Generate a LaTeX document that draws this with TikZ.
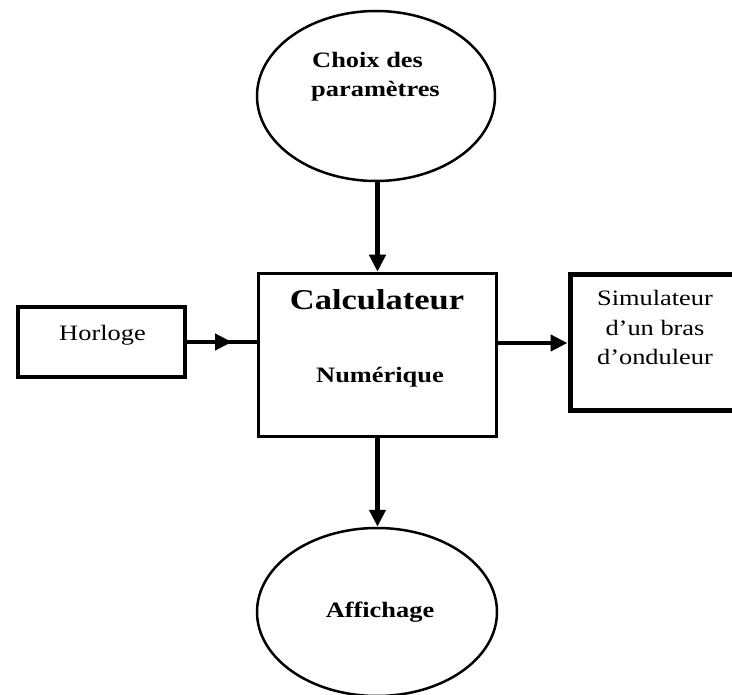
\documentclass[tikz,border=0pt]{standalone}
\usepackage{fontspec}
\setmainfont{Liberation Serif}[FakeStretch=1.2]
\usetikzlibrary{shapes.geometric,arrows.meta}
\begin{document}
\begin{tikzpicture}[x=1pt,y=-1pt,
  ell/.style={draw,ellipse,line width=2.5pt,inner sep=0pt},
  boxa/.style={draw,rectangle,inner sep=0pt},
  lbl/.style={inner sep=0pt,anchor=base,font=\fontsize{22}{26}\selectfont},
  lblb/.style={inner sep=0pt,anchor=base,font=\fontsize{22}{26}\selectfont\bfseries},
  conn/.style={line width=4.5pt},
  tipa/.style={-{Triangle[length=17pt,width=16pt]}}]
\useasboundingbox (0,0) rectangle (732,695);
\clip (0,0) rectangle (732,695);

% nodes
\node[ell,minimum width=238pt,minimum height=170pt] (choix) at (376,96) {};
\node[lblb,anchor=base west] (choix1) at (312,68) {Choix des};
\node[lblb,anchor=base west] (choix2) at (311,97) {paramètres};

\node[boxa,line width=3.5pt,minimum width=238pt,minimum height=163pt] (calc) at (377.5,355) {};
\node[lblb,font=\fontsize{28.7}{32}\selectfont\bfseries] (calct) at (377,310) {Calculateur};
\node[lblb] (numt) at (380,383) {Numérique};

\node[boxa,line width=4.5pt,minimum width=167pt,minimum height=70pt] (horloge) at (101.5,342) {};
\node[lbl] (hort) at (102.5,341) {Horloge};

\node[boxa,line width=5pt,minimum width=180pt,minimum height=136pt] (sim) at (660,343) {};
\node[lbl] (sim1) at (655,306) {Simulateur};
\node[lbl] (sim2) at (655,336) {d’un bras};
\node[lbl] (sim3) at (655,365) {d’onduleur};

\node[ell,minimum width=240pt,minimum height=168pt] (aff) at (377,612) {};
\node[lblb] (afft) at (380,617) {Affichage};

% connectors
\coordinate (hm) at (232,342);
\draw[conn,tipa] (calc.north |- choix.south) -- (calc.north);
\draw[conn] (horloge.east) -- (calc.west |- horloge.east);
\draw[conn,tipa] (horloge.east) -- (hm);
\draw[conn,tipa] (calc.east |- sim.west) -- (sim.west);
\draw[conn,tipa] (calc.south) -- (calc.south |- aff.north);
\end{tikzpicture}
\end{document}
